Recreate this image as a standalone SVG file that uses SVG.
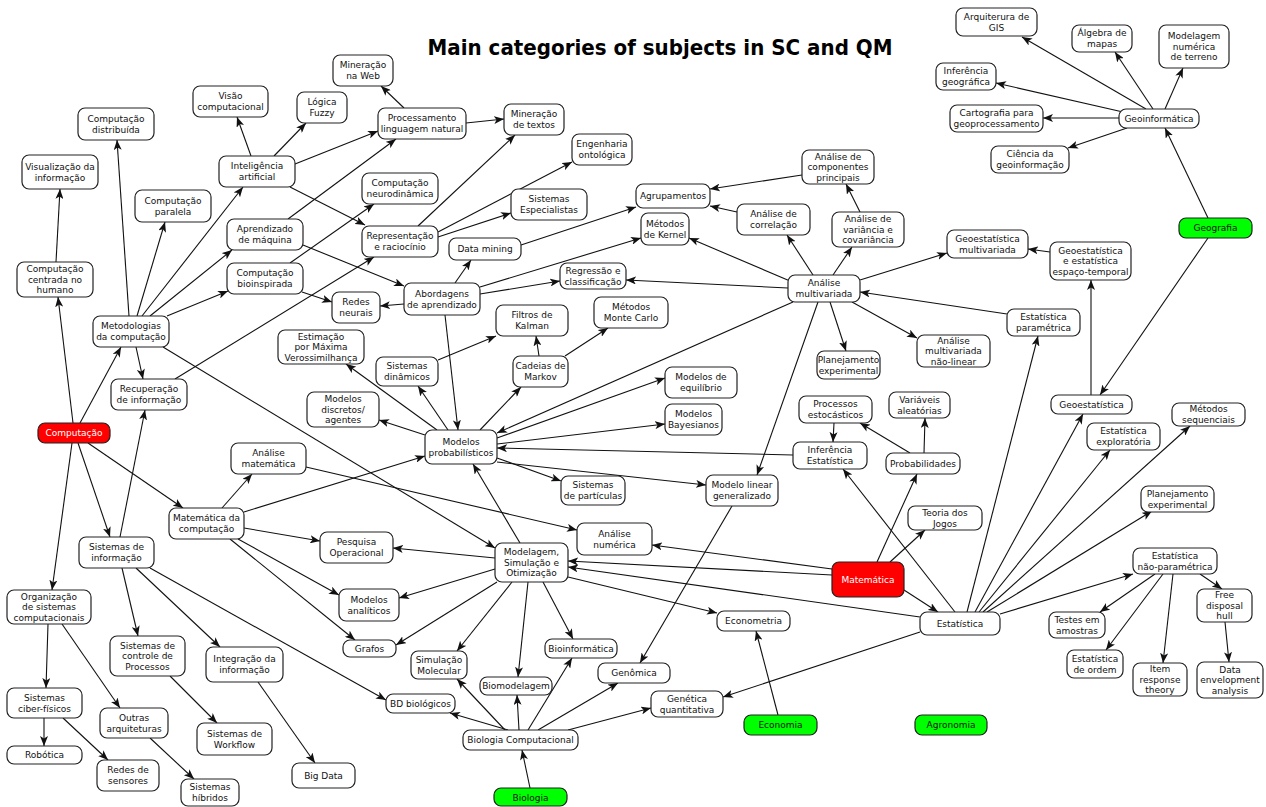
<svg xmlns="http://www.w3.org/2000/svg" width="1266" height="807" viewBox="0 0 1266 807">
<style>
.n rect{fill:#fff;stroke:#222;stroke-width:1.2}
.n rect.r{fill:#f00}
.n rect.g{fill:#0f0}
text{font-family:"DejaVu Sans","Liberation Sans",sans-serif;font-size:9px;text-anchor:middle;fill:#111}
text.w{fill:#fff}
text.title{font-size:22px;font-weight:bold;fill:#000}
#connectors line{stroke:#111;stroke-width:1.1;fill:none;marker-end:url(#a)}
</style>
<defs>
<marker id="a" markerWidth="11" markerHeight="8" refX="10" refY="4" orient="auto" markerUnits="userSpaceOnUse"><path d="M0,0 L10,4 L0,8 L2.5,4 z" fill="#111"/></marker>
</defs>
<rect width="1266" height="807" fill="#fff"/>
<text class="title" x="660" y="55" textLength="465" lengthAdjust="spacingAndGlyphs">Main categories of subjects in SC and QM</text>
<g id="connectors">
<line x1="73" y1="423" x2="58" y2="297"/>
<line x1="80" y1="423" x2="121" y2="347"/>
<line x1="78" y1="443" x2="110" y2="537"/>
<line x1="88" y1="443" x2="183" y2="508"/>
<line x1="72" y1="443" x2="52" y2="590"/>
<line x1="56" y1="262" x2="60" y2="189"/>
<line x1="129" y1="316" x2="117" y2="140"/>
<line x1="137" y1="316" x2="165" y2="222"/>
<line x1="142" y1="316" x2="243" y2="187"/>
<line x1="150" y1="316" x2="232" y2="250"/>
<line x1="167" y1="316" x2="228" y2="291"/>
<line x1="136" y1="347" x2="143" y2="379"/>
<line x1="163" y1="347" x2="495" y2="548"/>
<line x1="251" y1="156" x2="237" y2="117"/>
<line x1="274" y1="156" x2="306" y2="123"/>
<line x1="295" y1="164" x2="378" y2="131"/>
<line x1="290" y1="187" x2="365" y2="225"/>
<line x1="288" y1="219" x2="396" y2="139"/>
<line x1="303" y1="245" x2="404" y2="286"/>
<line x1="290" y1="263" x2="374" y2="204"/>
<line x1="302" y1="292" x2="332" y2="302"/>
<line x1="175" y1="379" x2="374" y2="257"/>
<line x1="404" y1="108" x2="381" y2="86"/>
<line x1="466" y1="123" x2="504" y2="119"/>
<line x1="418" y1="226" x2="515" y2="135"/>
<line x1="438" y1="232" x2="572" y2="162"/>
<line x1="438" y1="237" x2="511" y2="213"/>
<line x1="404" y1="304" x2="380" y2="306"/>
<line x1="455" y1="283" x2="471" y2="260"/>
<line x1="480" y1="294" x2="560" y2="281"/>
<line x1="480" y1="287" x2="641" y2="238"/>
<line x1="445" y1="315" x2="458" y2="430"/>
<line x1="521" y1="245" x2="636" y2="207"/>
<line x1="790" y1="281" x2="689" y2="238"/>
<line x1="788" y1="288" x2="626" y2="280"/>
<line x1="813" y1="275" x2="787" y2="235"/>
<line x1="833" y1="275" x2="852" y2="247"/>
<line x1="830" y1="302" x2="846" y2="351"/>
<line x1="852" y1="302" x2="917" y2="338"/>
<line x1="860" y1="280" x2="947" y2="253"/>
<line x1="793" y1="302" x2="497" y2="433"/>
<line x1="818" y1="302" x2="757" y2="475"/>
<line x1="737" y1="212" x2="710" y2="206"/>
<line x1="802" y1="175" x2="710" y2="189"/>
<line x1="860" y1="212" x2="846" y2="184"/>
<line x1="1007" y1="314" x2="860" y2="292"/>
<line x1="1146" y1="109" x2="1022" y2="37"/>
<line x1="1153" y1="109" x2="1115" y2="52"/>
<line x1="1165" y1="109" x2="1183" y2="68"/>
<line x1="1123" y1="112" x2="996" y2="83"/>
<line x1="1119" y1="118" x2="1043" y2="118"/>
<line x1="1127" y1="128" x2="1068" y2="148"/>
<line x1="1208" y1="218" x2="1165" y2="128"/>
<line x1="1208" y1="238" x2="1100" y2="395"/>
<line x1="1091" y1="395" x2="1091" y2="280"/>
<line x1="1050" y1="252" x2="1028" y2="249"/>
<line x1="967" y1="612" x2="1038" y2="336"/>
<line x1="975" y1="612" x2="1083" y2="414"/>
<line x1="979" y1="612" x2="1110" y2="450"/>
<line x1="983" y1="612" x2="1190" y2="426"/>
<line x1="987" y1="612" x2="1152" y2="511"/>
<line x1="1000" y1="614" x2="1133" y2="574"/>
<line x1="955" y1="612" x2="843" y2="469"/>
<line x1="920" y1="617" x2="568" y2="567"/>
<line x1="920" y1="632" x2="723" y2="697"/>
<line x1="877" y1="562" x2="917" y2="474"/>
<line x1="890" y1="562" x2="925" y2="530"/>
<line x1="904" y1="590" x2="938" y2="612"/>
<line x1="832" y1="569" x2="652" y2="545"/>
<line x1="832" y1="575" x2="568" y2="561"/>
<line x1="910" y1="453" x2="860" y2="423"/>
<line x1="924" y1="453" x2="925" y2="418"/>
<line x1="834" y1="423" x2="833" y2="442"/>
<line x1="793" y1="455" x2="497" y2="448"/>
<line x1="437" y1="430" x2="346" y2="364"/>
<line x1="448" y1="430" x2="418" y2="386"/>
<line x1="425" y1="435" x2="379" y2="420"/>
<line x1="480" y1="430" x2="521" y2="387"/>
<line x1="497" y1="438" x2="665" y2="378"/>
<line x1="497" y1="444" x2="665" y2="424"/>
<line x1="497" y1="458" x2="561" y2="481"/>
<line x1="497" y1="462" x2="706" y2="485"/>
<line x1="438" y1="360" x2="496" y2="336"/>
<line x1="539" y1="356" x2="536" y2="336"/>
<line x1="565" y1="356" x2="608" y2="328"/>
<line x1="244" y1="512" x2="425" y2="456"/>
<line x1="222" y1="508" x2="252" y2="474"/>
<line x1="244" y1="528" x2="320" y2="541"/>
<line x1="238" y1="539" x2="339" y2="595"/>
<line x1="230" y1="539" x2="355" y2="640"/>
<line x1="306" y1="467" x2="577" y2="530"/>
<line x1="520" y1="543" x2="473" y2="464"/>
<line x1="495" y1="558" x2="393" y2="548"/>
<line x1="495" y1="569" x2="399" y2="598"/>
<line x1="497" y1="582" x2="396" y2="645"/>
<line x1="512" y1="582" x2="457" y2="651"/>
<line x1="528" y1="582" x2="518" y2="677"/>
<line x1="543" y1="582" x2="573" y2="639"/>
<line x1="568" y1="577" x2="717" y2="613"/>
<line x1="120" y1="537" x2="145" y2="410"/>
<line x1="122" y1="568" x2="138" y2="636"/>
<line x1="136" y1="568" x2="220" y2="647"/>
<line x1="150" y1="568" x2="386" y2="700"/>
<line x1="170" y1="676" x2="217" y2="723"/>
<line x1="258" y1="682" x2="315" y2="763"/>
<line x1="48" y1="624" x2="46" y2="688"/>
<line x1="62" y1="624" x2="120" y2="708"/>
<line x1="44" y1="718" x2="44" y2="746"/>
<line x1="63" y1="718" x2="108" y2="760"/>
<line x1="150" y1="738" x2="194" y2="779"/>
<line x1="508" y1="730" x2="450" y2="713"/>
<line x1="505" y1="730" x2="457" y2="679"/>
<line x1="519" y1="730" x2="517" y2="695"/>
<line x1="528" y1="730" x2="572" y2="658"/>
<line x1="538" y1="730" x2="618" y2="683"/>
<line x1="568" y1="730" x2="651" y2="708"/>
<line x1="530" y1="788" x2="522" y2="750"/>
<line x1="732" y1="506" x2="640" y2="663"/>
<line x1="778" y1="715" x2="756" y2="631"/>
<line x1="1155" y1="574" x2="1100" y2="612"/>
<line x1="1163" y1="574" x2="1106" y2="650"/>
<line x1="1173" y1="574" x2="1163" y2="663"/>
<line x1="1200" y1="574" x2="1222" y2="589"/>
<line x1="1225" y1="622" x2="1229" y2="662"/>
</g>
<g id="n1" class="n"><rect x="78" y="108" width="76" height="32" rx="7"/><text x="116" y="122">Computação<tspan x="116" dy="10.7">distribuída</tspan></text></g>
<g id="n2" class="n"><rect x="22" y="155" width="76" height="34" rx="7"/><text x="60" y="170">Visualização da<tspan x="60" dy="10.7">informação</tspan></text></g>
<g id="n3" class="n"><rect x="193" y="86" width="75" height="31" rx="7"/><text x="230.5" y="99.3">Visão<tspan x="230.5" dy="10.7">computacional</tspan></text></g>
<g id="n4" class="n"><rect x="297" y="92" width="50" height="31" rx="7"/><text x="322" y="105.3">Lógica<tspan x="322" dy="10.7">Fuzzy</tspan></text></g>
<g id="n5" class="n"><rect x="333" y="55" width="60" height="31" rx="7"/><text x="363" y="68.3">Mineração<tspan x="363" dy="10.7">na Web</tspan></text></g>
<g id="n6" class="n"><rect x="378" y="108" width="88" height="31" rx="7"/><text x="422" y="121.3">Processamento<tspan x="422" dy="10.7">linguagem natural</tspan></text></g>
<g id="n7" class="n"><rect x="504" y="104" width="60" height="31" rx="7"/><text x="534" y="117.3">Mineração<tspan x="534" dy="10.7">de textos</tspan></text></g>
<g id="n8" class="n"><rect x="572" y="134" width="60" height="31" rx="7"/><text x="602" y="147.3">Engenharia<tspan x="602" dy="10.7">ontológica</tspan></text></g>
<g id="n9" class="n"><rect x="219" y="156" width="76" height="31" rx="7"/><text x="257" y="169.3">Inteligência<tspan x="257" dy="10.7">artificial</tspan></text></g>
<g id="n10" class="n"><rect x="135" y="190" width="76" height="32" rx="7"/><text x="173" y="203.8">Computação<tspan x="173" dy="10.7">paralela</tspan></text></g>
<g id="n11" class="n"><rect x="362" y="173" width="76" height="31" rx="7"/><text x="400" y="186.3">Computação<tspan x="400" dy="10.7">neurodinâmica</tspan></text></g>
<g id="n12" class="n"><rect x="511" y="189" width="76" height="31" rx="7"/><text x="549" y="202.3">Sistemas<tspan x="549" dy="10.7">Especialistas</tspan></text></g>
<g id="n13" class="n"><rect x="227" y="219" width="76" height="31" rx="7"/><text x="265" y="232.3">Aprendizado<tspan x="265" dy="10.7">de máquina</tspan></text></g>
<g id="n14" class="n"><rect x="362" y="226" width="76" height="31" rx="7"/><text x="400" y="239.3">Representação<tspan x="400" dy="10.7">e raciocínio</tspan></text></g>
<g id="n15" class="n"><rect x="449" y="238" width="72" height="22" rx="7"/><text x="485" y="252.2">Data mining</text></g>
<g id="n16" class="n"><rect x="227" y="263" width="76" height="31" rx="7"/><text x="265" y="276.3">Computação<tspan x="265" dy="10.7">bioinspirada</tspan></text></g>
<g id="n17" class="n"><rect x="17" y="262" width="76" height="35" rx="7"/><text x="55" y="272">Computação<tspan x="55" dy="10.7">centrada no</tspan><tspan x="55" dy="10.7">humano</tspan></text></g>
<g id="n18" class="n"><rect x="332" y="292" width="48" height="31" rx="7"/><text x="356" y="305.3">Redes<tspan x="356" dy="10.7">neurais</tspan></text></g>
<g id="n19" class="n"><rect x="404" y="283" width="76" height="32" rx="7"/><text x="442" y="296.8">Abordagens<tspan x="442" dy="10.7">de aprendizado</tspan></text></g>
<g id="n20" class="n"><rect x="560" y="263" width="66" height="26" rx="7"/><text x="593" y="273.8">Regressão e<tspan x="593" dy="10.7">classificação</tspan></text></g>
<g id="n21" class="n"><rect x="636" y="184" width="74" height="24" rx="7"/><text x="673" y="199.2">Agrupamentos</text></g>
<g id="n22" class="n"><rect x="641" y="213" width="48" height="32" rx="7"/><text x="665" y="226.8">Métodos<tspan x="665" dy="10.7">de Kernel</tspan></text></g>
<g id="n23" class="n"><rect x="737" y="204" width="73" height="31" rx="7"/><text x="773.5" y="217.3">Análise de<tspan x="773.5" dy="10.7">correlação</tspan></text></g>
<g id="n24" class="n"><rect x="802" y="150" width="72" height="34" rx="7"/><text x="838" y="159.5">Análise de<tspan x="838" dy="10.7">componentes</tspan><tspan x="838" dy="10.7">principais</tspan></text></g>
<g id="n25" class="n"><rect x="832" y="212" width="72" height="35" rx="7"/><text x="868" y="222">Análise de<tspan x="868" dy="10.7">variância e</tspan><tspan x="868" dy="10.7">covariância</tspan></text></g>
<g id="n26" class="n"><rect x="788" y="275" width="72" height="27" rx="7"/><text x="824" y="286.3">Análise<tspan x="824" dy="10.7">multivariada</tspan></text></g>
<g id="n27" class="n"><rect x="594" y="297" width="74" height="31" rx="7"/><text x="631" y="310.3">Métodos<tspan x="631" dy="10.7">Monte Carlo</tspan></text></g>
<g id="n28" class="n"><rect x="817" y="351" width="63" height="28" rx="7"/><text x="848.5" y="362.8">Planejamento<tspan x="848.5" dy="10.7">experimental</tspan></text></g>
<g id="n29" class="n"><rect x="917" y="335" width="73" height="32" rx="7"/><text x="953.5" y="343.5">Análise<tspan x="953.5" dy="10.7">multivariada</tspan><tspan x="953.5" dy="10.7">não-linear</tspan></text></g>
<g id="n30" class="n"><rect x="93" y="316" width="76" height="31" rx="7"/><text x="131" y="329.3">Metodologias<tspan x="131" dy="10.7">da computação</tspan></text></g>
<g id="n31" class="n"><rect x="278" y="330" width="86" height="34" rx="7"/><text x="321" y="339.5">Estimação<tspan x="321" dy="10.7">por Máxima</tspan><tspan x="321" dy="10.7">Verossimilhança</tspan></text></g>
<g id="n32" class="n"><rect x="496" y="305" width="72" height="31" rx="7"/><text x="532" y="318.3">Filtros de<tspan x="532" dy="10.7">Kalman</tspan></text></g>
<g id="n33" class="n"><rect x="376" y="357" width="62" height="29" rx="7"/><text x="407" y="369.3">Sistemas<tspan x="407" dy="10.7">dinâmicos</tspan></text></g>
<g id="n34" class="n"><rect x="513" y="356" width="55" height="31" rx="7"/><text x="540.5" y="369.3">Cadeias de<tspan x="540.5" dy="10.7">Markov</tspan></text></g>
<g id="n35" class="n"><rect x="111" y="379" width="76" height="31" rx="7"/><text x="149" y="392.3">Recuperação<tspan x="149" dy="10.7">de informação</tspan></text></g>
<g id="n36" class="n"><rect x="307" y="392" width="72" height="35" rx="7"/><text x="343" y="402">Modelos<tspan x="343" dy="10.7">discretos/</tspan><tspan x="343" dy="10.7">agentes</tspan></text></g>
<g id="n37" class="n"><rect x="665" y="367" width="72" height="31" rx="7"/><text x="701" y="380.3">Modelos de<tspan x="701" dy="10.7">equilíbrio</tspan></text></g>
<g id="n38" class="n"><rect x="665" y="404" width="57" height="31" rx="7"/><text x="693.5" y="417.3">Modelos<tspan x="693.5" dy="10.7">Bayesianos</tspan></text></g>
<g id="n39" class="n"><rect x="799" y="396" width="73" height="27" rx="7"/><text x="835.5" y="407.3">Processos<tspan x="835.5" dy="10.7">estocásticos</tspan></text></g>
<g id="n40" class="n"><rect x="889" y="392" width="61" height="26" rx="7"/><text x="919.5" y="402.8">Variáveis<tspan x="919.5" dy="10.7">aleatórias</tspan></text></g>
<g id="n41" class="n"><rect class="r" x="38" y="423" width="72" height="20" rx="7"/><text class="w" x="74" y="436.2">Computação</text></g>
<g id="n42" class="n"><rect x="425" y="430" width="72" height="34" rx="7"/><text x="461" y="444.8">Modelos<tspan x="461" dy="10.7">probabilísticos</tspan></text></g>
<g id="n43" class="n"><rect x="793" y="442" width="74" height="27" rx="7"/><text x="830" y="453.3">Inferência<tspan x="830" dy="10.7">Estatística</tspan></text></g>
<g id="n44" class="n"><rect x="886" y="453" width="74" height="21" rx="7"/><text x="923" y="466.7">Probabilidades</text></g>
<g id="n45" class="n"><rect x="231" y="443" width="75" height="31" rx="7"/><text x="268.5" y="456.3">Análise<tspan x="268.5" dy="10.7">matemática</tspan></text></g>
<g id="n46" class="n"><rect x="561" y="476" width="64" height="29" rx="7"/><text x="593" y="488.3">Sistemas<tspan x="593" dy="10.7">de partículas</tspan></text></g>
<g id="n47" class="n"><rect x="706" y="475" width="72" height="31" rx="7"/><text x="742" y="488.3">Modelo linear<tspan x="742" dy="10.7">generalizado</tspan></text></g>
<g id="n48" class="n"><rect x="908" y="506" width="74" height="24" rx="7"/><text x="945" y="515.8">Teoria dos<tspan x="945" dy="10.7">Jogos</tspan></text></g>
<g id="n49" class="n"><rect x="169" y="508" width="75" height="31" rx="7"/><text x="206.5" y="521.3">Matemática da<tspan x="206.5" dy="10.7">computação</tspan></text></g>
<g id="n50" class="n"><rect x="577" y="523" width="75" height="32" rx="7"/><text x="614.5" y="536.8">Análise<tspan x="614.5" dy="10.7">numérica</tspan></text></g>
<g id="n51" class="n"><rect x="320" y="532" width="73" height="31" rx="7"/><text x="356.5" y="545.3">Pesquisa<tspan x="356.5" dy="10.7">Operacional</tspan></text></g>
<g id="n52" class="n"><rect x="79" y="537" width="75" height="31" rx="7"/><text x="116.5" y="550.3">Sistemas de<tspan x="116.5" dy="10.7">informação</tspan></text></g>
<g id="n53" class="n"><rect x="495" y="543" width="73" height="39" rx="7"/><text x="531.5" y="555">Modelagem,<tspan x="531.5" dy="10.7">Simulação e</tspan><tspan x="531.5" dy="10.7">Otimização</tspan></text></g>
<g id="n54" class="n"><rect class="r" x="832" y="562" width="72" height="35" rx="7"/><text class="w" x="868" y="582.7">Matemática</text></g>
<g id="n55" class="n"><rect x="7" y="590" width="84" height="34" rx="7"/><text x="49" y="599.5">Organização<tspan x="49" dy="10.7">de sistemas</tspan><tspan x="49" dy="10.7">computacionais</tspan></text></g>
<g id="n56" class="n"><rect x="339" y="589" width="60" height="32" rx="7"/><text x="369" y="602.8">Modelos<tspan x="369" dy="10.7">analíticos</tspan></text></g>
<g id="n57" class="n"><rect x="717" y="611" width="73" height="20" rx="7"/><text x="753.5" y="624.2">Econometria</text></g>
<g id="n58" class="n"><rect x="920" y="612" width="80" height="23" rx="7"/><text x="960" y="626.7">Estatística</text></g>
<g id="n59" class="n"><rect x="343" y="640" width="53" height="17" rx="7"/><text x="369.5" y="651.7">Grafos</text></g>
<g id="n60" class="n"><rect x="110" y="636" width="75" height="40" rx="7"/><text x="147.5" y="648.5">Sistemas de<tspan x="147.5" dy="10.7">controle de</tspan><tspan x="147.5" dy="10.7">Processos</tspan></text></g>
<g id="n61" class="n"><rect x="206" y="647" width="77" height="35" rx="7"/><text x="244.5" y="662.3">Integração da<tspan x="244.5" dy="10.7">informação</tspan></text></g>
<g id="n62" class="n"><rect x="411" y="651" width="56" height="28" rx="7"/><text x="439" y="662.8">Simulação<tspan x="439" dy="10.7">Molecular</tspan></text></g>
<g id="n63" class="n"><rect x="545" y="639" width="72" height="19" rx="7"/><text x="581" y="651.7">Bioinformática</text></g>
<g id="n64" class="n"><rect x="480" y="677" width="72" height="18" rx="7"/><text x="516" y="689.2">Biomodelagem</text></g>
<g id="n65" class="n"><rect x="598" y="663" width="72" height="20" rx="7"/><text x="634" y="676.2">Genômica</text></g>
<g id="n66" class="n"><rect x="386" y="694" width="69" height="19" rx="7"/><text x="420.5" y="706.7">BD biológicos</text></g>
<g id="n67" class="n"><rect x="651" y="691" width="72" height="26" rx="7"/><text x="687" y="701.8">Genética<tspan x="687" dy="10.7">quantitativa</tspan></text></g>
<g id="n68" class="n"><rect x="7" y="688" width="75" height="30" rx="7"/><text x="44.5" y="700.8">Sistemas<tspan x="44.5" dy="10.7">ciber-físicos</tspan></text></g>
<g id="n69" class="n"><rect x="100" y="708" width="68" height="30" rx="7"/><text x="134" y="720.8">Outras<tspan x="134" dy="10.7">arquiteturas</tspan></text></g>
<g id="n70" class="n"><rect x="197" y="723" width="75" height="32" rx="7"/><text x="234.5" y="736.8">Sistemas de<tspan x="234.5" dy="10.7">Workflow</tspan></text></g>
<g id="n71" class="n"><rect class="g" x="744" y="715" width="73" height="20" rx="7"/><text x="780.5" y="728.2">Economia</text></g>
<g id="n72" class="n"><rect class="g" x="915" y="715" width="72" height="20" rx="7"/><text x="951" y="728.2">Agronomia</text></g>
<g id="n73" class="n"><rect x="463" y="730" width="115" height="20" rx="7"/><text x="520.5" y="743.2">Biologia Computacional</text></g>
<g id="n74" class="n"><rect x="7" y="746" width="75" height="18" rx="7"/><text x="44.5" y="758.2">Robótica</text></g>
<g id="n75" class="n"><rect x="97" y="760" width="62" height="31" rx="7"/><text x="128" y="773.3">Redes de<tspan x="128" dy="10.7">sensores</tspan></text></g>
<g id="n76" class="n"><rect x="292" y="763" width="63" height="25" rx="7"/><text x="323.5" y="778.7">Big Data</text></g>
<g id="n77" class="n"><rect x="181" y="779" width="58" height="27" rx="7"/><text x="210" y="790.3">Sistemas<tspan x="210" dy="10.7">híbridos</tspan></text></g>
<g id="n78" class="n"><rect class="g" x="494" y="788" width="73" height="18" rx="7"/><text x="530.5" y="800.5">Biologia</text></g>
<g id="n79" class="n"><rect x="956" y="8" width="81" height="28" rx="7"/><text x="996.5" y="19.8">Arquiterura de<tspan x="996.5" dy="10.7">GIS</tspan></text></g>
<g id="n80" class="n"><rect x="1072" y="25" width="60" height="27" rx="7"/><text x="1102" y="36.3">Álgebra de<tspan x="1102" dy="10.7">mapas</tspan></text></g>
<g id="n81" class="n"><rect x="1159" y="25" width="70" height="43" rx="7"/><text x="1194" y="39">Modelagem<tspan x="1194" dy="10.7">numérica</tspan><tspan x="1194" dy="10.7">de terreno</tspan></text></g>
<g id="n82" class="n"><rect x="936" y="63" width="60" height="27" rx="7"/><text x="966" y="74.3">Inferência<tspan x="966" dy="10.7">geográfica</tspan></text></g>
<g id="n83" class="n"><rect x="950" y="105" width="93" height="27" rx="7"/><text x="996.5" y="116.3">Cartografia para<tspan x="996.5" dy="10.7">geoprocessamento</tspan></text></g>
<g id="n84" class="n"><rect x="1119" y="109" width="80" height="19" rx="7"/><text x="1159" y="121.7">Geoinformática</text></g>
<g id="n85" class="n"><rect x="991" y="146" width="78" height="27" rx="7"/><text x="1030" y="157.3">Ciência da<tspan x="1030" dy="10.7">geoinformação</tspan></text></g>
<g id="n86" class="n"><rect class="g" x="1179" y="218" width="73" height="20" rx="7"/><text x="1215.5" y="231.2">Geografia</text></g>
<g id="n87" class="n"><rect x="947" y="230" width="81" height="28" rx="7"/><text x="987.5" y="241.8">Geoestatística<tspan x="987.5" dy="10.7">multivariada</tspan></text></g>
<g id="n88" class="n"><rect x="1050" y="242" width="81" height="38" rx="7"/><text x="1090.5" y="253.5">Geoestatística<tspan x="1090.5" dy="10.7">e estatística</tspan><tspan x="1090.5" dy="10.7">espaço-temporal</tspan></text></g>
<g id="n89" class="n"><rect x="1007" y="309" width="73" height="27" rx="7"/><text x="1043.5" y="320.3">Estatística<tspan x="1043.5" dy="10.7">paramétrica</tspan></text></g>
<g id="n90" class="n"><rect x="1051" y="395" width="81" height="19" rx="7"/><text x="1091.5" y="407.7">Geoestatística</text></g>
<g id="n91" class="n"><rect x="1172" y="403" width="73" height="23" rx="7"/><text x="1208.5" y="412.3">Métodos<tspan x="1208.5" dy="10.7">sequenciais</tspan></text></g>
<g id="n92" class="n"><rect x="1087" y="423" width="73" height="27" rx="7"/><text x="1123.5" y="434.3">Estatística<tspan x="1123.5" dy="10.7">exploratória</tspan></text></g>
<g id="n93" class="n"><rect x="1141" y="486" width="73" height="26" rx="7"/><text x="1177.5" y="496.8">Planejamento<tspan x="1177.5" dy="10.7">experimental</tspan></text></g>
<g id="n94" class="n"><rect x="1133" y="548" width="84" height="26" rx="7"/><text x="1175" y="558.8">Estatística<tspan x="1175" dy="10.7">não-paramétrica</tspan></text></g>
<g id="n95" class="n"><rect x="1197" y="589" width="55" height="33" rx="7"/><text x="1224.5" y="598">Free<tspan x="1224.5" dy="10.7">disposal</tspan><tspan x="1224.5" dy="10.7">hull</tspan></text></g>
<g id="n96" class="n"><rect x="1049" y="612" width="56" height="26" rx="7"/><text x="1077" y="622.8">Testes em<tspan x="1077" dy="10.7">amostras</tspan></text></g>
<g id="n97" class="n"><rect x="1067" y="650" width="56" height="28" rx="7"/><text x="1095" y="661.8">Estatística<tspan x="1095" dy="10.7">de ordem</tspan></text></g>
<g id="n98" class="n"><rect x="1133" y="663" width="54" height="33" rx="7"/><text x="1160" y="672">Item<tspan x="1160" dy="10.7">response</tspan><tspan x="1160" dy="10.7">theory</tspan></text></g>
<g id="n99" class="n"><rect x="1197" y="662" width="66" height="36" rx="7"/><text x="1230" y="672.5">Data<tspan x="1230" dy="10.7">envelopment</tspan><tspan x="1230" dy="10.7">analysis</tspan></text></g>
</svg>
